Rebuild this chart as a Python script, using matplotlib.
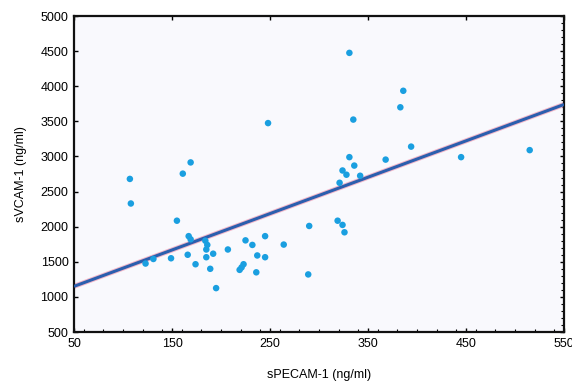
import numpy as np
import matplotlib.pyplot as plt
from matplotlib.ticker import MultipleLocator

# sPECAM-1 / sVCAM-1 pairs (ng/ml)
specam = [107, 108, 161, 169, 248, 155, 167, 169, 184, 186, 185, 207, 225,
          232, 245, 264, 237, 245, 166, 185, 192, 149, 131, 123, 174, 189,
          223, 221, 219, 236, 195, 290, 289, 331, 386, 383, 335, 394, 331,
          368, 445, 515, 336, 324, 328, 342, 321, 319, 324, 326]
svcam = [2680, 2330, 2755, 2915, 3475, 2085, 1865, 1820, 1800, 1740, 1675,
         1675, 1805, 1740, 1865, 1745, 1590, 1565, 1600, 1565, 1615, 1550,
         1540, 1475, 1465, 1400, 1465, 1420, 1385, 1350, 1125, 2010, 1320,
         4475, 3935, 3700, 3525, 3140, 2990, 2955, 2990, 3090, 2870, 2800,
         2740, 2725, 2625, 2085, 2025, 1920]

# regression line as drawn in the reference
fit_intercept = 1150
fit_slope = 5.18
fit_x = [50, 550]

plt.rcParams.update({
    "font.family": ["Liberation Sans", "DejaVu Sans"],
    "font.size": 9,
})

fig = plt.figure(figsize=(5.72, 3.81), dpi=100)
ax = fig.add_axes([0.1294, 0.1286, 0.8566, 0.8294])
ax.set_facecolor("#f9f9fd")

line_x = np.array(fit_x, dtype=float)
line_y = fit_intercept + fit_slope * (line_x - 50)
ax.plot(line_x, line_y, color="#f2b6c8", linewidth=3.6, zorder=2, solid_capstyle="butt")
ax.plot(line_x, line_y, color="#2b5fae", linewidth=2.2, zorder=3, solid_capstyle="butt")

ax.scatter(specam, svcam, s=22, color="#1a9fe0", edgecolors="none", zorder=4)

ax.set_xlim(50, 550)
ax.set_ylim(500, 5000)
ax.set_xticks(np.arange(50, 551, 100))
ax.set_yticks(np.arange(500, 5001, 500))
ax.xaxis.set_minor_locator(MultipleLocator(20))
ax.yaxis.set_minor_locator(MultipleLocator(100))

ax.tick_params(which="major", direction="in", length=3, width=1.0,
               top=True, right=True, labelsize=9, pad=4)
ax.tick_params(which="minor", direction="in", length=2, width=0.8,
               top=False, right=True, left=False)

for spine in ax.spines.values():
    spine.set_linewidth(1.6)
    spine.set_color("#111111")

ax.set_xlabel("sPECAM-1 (ng/ml)", fontsize=9, labelpad=14)
ax.set_ylabel("sVCAM-1 (ng/ml)", fontsize=9, labelpad=10)

plt.savefig("out.png", dpi=100, facecolor="white")
